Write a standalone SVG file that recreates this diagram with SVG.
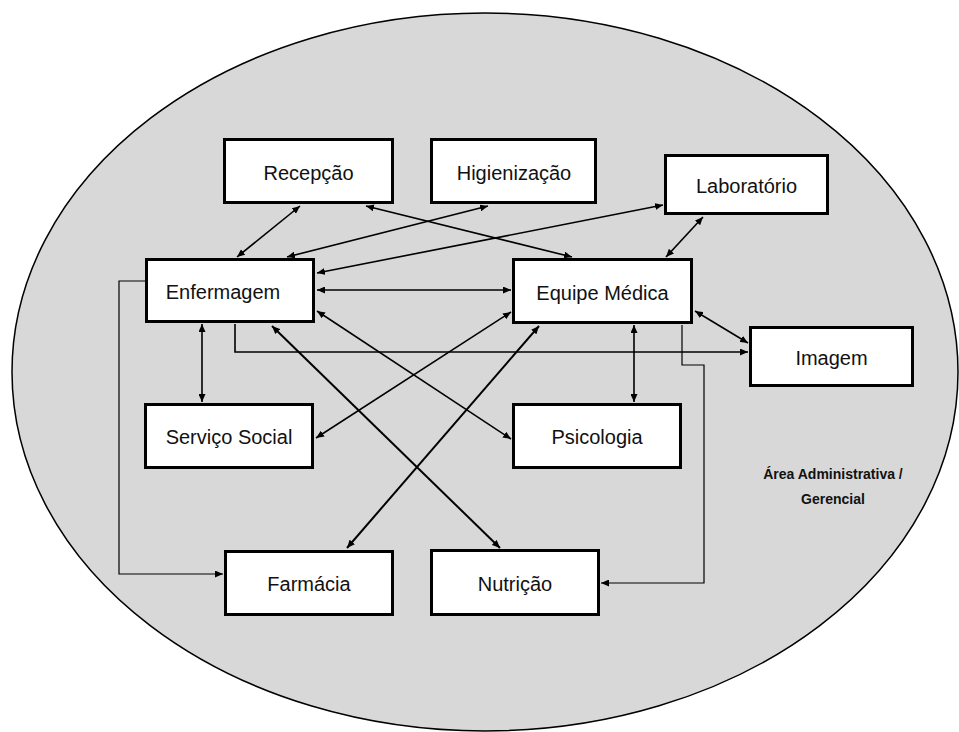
<svg xmlns="http://www.w3.org/2000/svg" width="959" height="732" viewBox="0 0 959 732">
  <style>
    .box { fill: #ffffff; stroke: #000000; stroke-width: 3; }
    .lbl { font-family: "Liberation Sans", Arial, sans-serif; font-size: 20px; fill: #111111; text-anchor: middle; }
    .note { font-family: "Liberation Sans", Arial, sans-serif; font-size: 14px; font-weight: bold; fill: #111111; text-anchor: middle; }
    .link { fill: none; stroke: #000000; stroke-width: 1.6; }
    .thick { stroke-width: 2; }
    .thin { fill: none; stroke: #000000; stroke-width: 1.2; }
  </style>
  <defs>
    <marker id="arrow" viewBox="0 0 8 7" refX="8" refY="3.5" markerWidth="8" markerHeight="7" markerUnits="userSpaceOnUse" orient="auto-start-reverse">
      <path d="M0,0 L8,3.5 L0,7 z" fill="#000000"/>
    </marker>
  </defs>

  <!-- administrative area background -->
  <ellipse id="area" cx="485" cy="372" rx="473" ry="359" fill="#d8d8d8" stroke="#000000" stroke-width="1.5"/>

  <g id="area-label">
    <text class="note" x="833" y="479">Área Administrativa /</text>
    <text class="note" x="833" y="504">Gerencial</text>
  </g>

  <!-- connectors -->
  <g id="connectors">
    <line class="link" x1="300" y1="206" x2="237" y2="257" marker-start="url(#arrow)" marker-end="url(#arrow)"/>
    <line class="link" x1="366" y1="206" x2="572" y2="257" marker-start="url(#arrow)" marker-end="url(#arrow)"/>
    <line class="link" x1="488" y1="206" x2="287" y2="257" marker-start="url(#arrow)" marker-end="url(#arrow)"/>
    <line class="link" x1="663" y1="205" x2="317" y2="273" marker-start="url(#arrow)" marker-end="url(#arrow)"/>
    <line class="link" x1="317" y1="290" x2="511" y2="290" marker-start="url(#arrow)" marker-end="url(#arrow)"/>
    <line class="link" x1="703" y1="217" x2="666" y2="257" marker-start="url(#arrow)" marker-end="url(#arrow)"/>
    <line class="link" x1="695" y1="311" x2="748" y2="343" marker-start="url(#arrow)" marker-end="url(#arrow)"/>
    <path class="link" d="M235,324 V352 H748" marker-end="url(#arrow)"/>
    <line class="link" x1="634" y1="325" x2="634" y2="402" marker-start="url(#arrow)" marker-end="url(#arrow)"/>
    <path class="thin" d="M682,325 V365 H704 V583 H601" marker-end="url(#arrow)"/>
    <path class="thin" d="M145,281 H119 V574 H223" marker-end="url(#arrow)"/>
    <line class="link" x1="202" y1="324" x2="202" y2="402" marker-start="url(#arrow)" marker-end="url(#arrow)"/>
    <line class="link" x1="317" y1="311" x2="511" y2="439" marker-start="url(#arrow)" marker-end="url(#arrow)"/>
    <line class="link thick" x1="272" y1="326" x2="500" y2="548" marker-start="url(#arrow)" marker-end="url(#arrow)"/>
    <line class="link" x1="316" y1="438" x2="511" y2="312" marker-start="url(#arrow)" marker-end="url(#arrow)"/>
    <line class="link thick" x1="347" y1="548" x2="539" y2="326" marker-start="url(#arrow)" marker-end="url(#arrow)"/>
  </g>

  <!-- nodes -->
  <g id="recepcao">
    <rect class="box" x="224.5" y="139.5" width="168" height="63"/>
    <text class="lbl" x="308.5" y="180">Recepção</text>
  </g>
  <g id="higienizacao">
    <rect class="box" x="431.5" y="139.5" width="164" height="63"/>
    <text class="lbl" x="514" y="180">Higienização</text>
  </g>
  <g id="laboratorio">
    <rect class="box" x="665.5" y="155.5" width="162" height="58"/>
    <text class="lbl" x="746.5" y="193">Laboratório</text>
  </g>
  <g id="enfermagem">
    <rect class="box" x="146.5" y="259.5" width="167" height="62"/>
    <text class="lbl" x="223" y="299">Enfermagem</text>
  </g>
  <g id="equipe-medica">
    <rect class="box" x="513.5" y="259.5" width="178" height="63"/>
    <text class="lbl" x="602.5" y="300">Equipe Médica</text>
  </g>
  <g id="imagem">
    <rect class="box" x="750.5" y="327.5" width="162" height="58"/>
    <text class="lbl" x="831.5" y="365">Imagem</text>
  </g>
  <g id="servico-social">
    <rect class="box" x="145.5" y="404.5" width="167" height="63"/>
    <text class="lbl" x="229" y="444">Serviço Social</text>
  </g>
  <g id="psicologia">
    <rect class="box" x="513.5" y="404.5" width="167" height="63"/>
    <text class="lbl" x="597" y="444">Psicologia</text>
  </g>
  <g id="farmacia">
    <rect class="box" x="225.5" y="551.5" width="167" height="63"/>
    <text class="lbl" x="309" y="591">Farmácia</text>
  </g>
  <g id="nutricao">
    <rect class="box" x="431.5" y="550.5" width="167" height="64"/>
    <text class="lbl" x="515" y="591">Nutrição</text>
  </g>
</svg>
